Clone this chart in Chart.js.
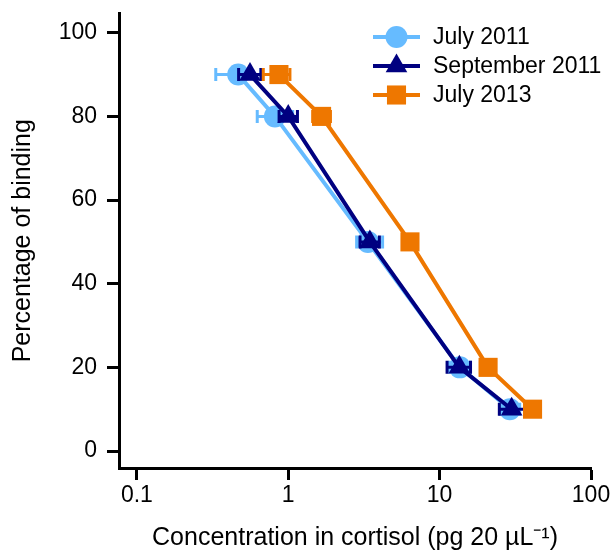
<!DOCTYPE html>
<html>
<head>
<meta charset="utf-8">
<script src="https://cdn.jsdelivr.net/npm/chart.js@4/dist/chart.umd.min.js"></script>
<style>
  html, body { margin: 0; padding: 0; background: #fff; }
  #chart { display: block; }
</style>
</head>
<body>
<canvas id="chart" width="614" height="551"></canvas>
<script>
// Werte
const binding = [90, 80, 50, 20, 10];

const july2011 = [0.467, 0.817, 3.36, 13.6, 29.1];
const july2011Lo = [0.332, 0.624, 2.83, 11.6, 25.2];
const july2011Hi = [0.66, 1.07, 4.2, 16.0, 33.8];

const sept2011 = [0.559, 1.0, 3.46, 13.5, 29.9];
const sept2011Lo = [0.47, 0.87, 2.98, 11.2, 24.8];
const sept2011Hi = [0.66, 1.15, 4.0, 16.0, 36.6];

const july2013 = [0.868, 1.66, 6.37, 20.9, 41.1];
const july2013Lo = [0.684, 1.45, 5.7, 18.6, 36.5];
const july2013Hi = [1.026, 1.9, 7.1, 23.4, 46.0];

const seriesLabels = ['July 2011', 'September 2011', 'July 2013'];
const xTicks = [0.1, 1, 10, 100];
const yTicks = [0, 20, 40, 60, 80, 100];

const FONT = "'Liberation Sans', Arial, sans-serif";

// Punkte fuer Chart.js zusammenbauen
function toPoints(xs, lo, hi) {
    return xs.map((x, i) => ({ x: x, y: binding[i], xMin: lo[i], xMax: hi[i] }));
}

function makeDataset(label, xs, lo, hi, color, style, radius, order) {
    return {
        label: label,
        data: toPoints(xs, lo, hi),
        borderColor: color,
        backgroundColor: color,
        borderWidth: 4,
        pointStyle: style,
        pointRadius: radius,
        pointHoverRadius: radius,
        pointBorderWidth: 0,
        tension: 0,
        fill: false,
        clip: false,
        order: order
    };
}

// Eigene Markerzeichnung (Legende)
function drawMarker(ctx, style, x, y, r) {
    ctx.beginPath();
    if (style === 'circle') {
        ctx.arc(x, y, r, 0, Math.PI * 2);
    } else if (style === 'triangle') {
        ctx.moveTo(x, y - r);
        ctx.lineTo(x + Math.sin(Math.PI * 2 / 3) * r, y + r / 2);
        ctx.lineTo(x - Math.sin(Math.PI * 2 / 3) * r, y + r / 2);
        ctx.closePath();
    } else {
        const s = Math.SQRT1_2 * r;
        ctx.rect(x - s, y - s, 2 * s, 2 * s);
    }
    ctx.fill();
}

// Horizontale Fehlerbalken
const errorBarPlugin = {
    id: 'errorBars',
    beforeDatasetDraw(chart, args) {
        const ctx = chart.ctx;
        const ds = chart.data.datasets[args.index];
        const xs = chart.scales.x;
        const ys = chart.scales.y;
        ctx.save();
        ctx.strokeStyle = ds.borderColor;
        ctx.lineWidth = 3;
        ds.data.forEach(p => {
            const y = ys.getPixelForValue(p.y);
            const x1 = xs.getPixelForValue(p.xMin);
            const x2 = xs.getPixelForValue(p.xMax);
            ctx.beginPath();
            ctx.moveTo(x1, y);
            ctx.lineTo(x2, y);
            ctx.moveTo(x1, y - 6.5);
            ctx.lineTo(x1, y + 6.5);
            ctx.moveTo(x2, y - 6.5);
            ctx.lineTo(x2, y + 6.5);
            ctx.stroke();
        });
        ctx.restore();
    }
};

// Legende oben rechts
const legendPlugin = {
    id: 'customLegend',
    afterDraw(chart) {
        const ctx = chart.ctx;
        ctx.save();
        ctx.font = '23px ' + FONT;
        ctx.textBaseline = 'middle';
        ctx.textAlign = 'left';
        chart.data.datasets.forEach((ds, i) => {
            const y = 37 + i * 29;
            ctx.strokeStyle = ds.borderColor;
            ctx.fillStyle = ds.borderColor;
            ctx.lineWidth = 4;
            ctx.beginPath();
            ctx.moveTo(373, y);
            ctx.lineTo(420, y);
            ctx.stroke();
            drawMarker(ctx, ds.pointStyle, 396.5, y, ds.pointRadius);
            ctx.fillStyle = '#000';
            ctx.fillText(ds.label, 433, y + 1);
        });
        ctx.restore();
    }
};

// Randabstaende der Achsen unterdruecken
function noEdgePadding(scale) {
    scale.paddingTop = 0;
    scale.paddingBottom = 0;
    scale.paddingLeft = 0;
    scale.paddingRight = 0;
}

const config = {
    type: 'line',
    data: {
        datasets: [
            makeDataset(seriesLabels[0], july2011, july2011Lo, july2011Hi, '#66bbff', 'circle', 11, 3),
            makeDataset(seriesLabels[1], sept2011, sept2011Lo, sept2011Hi, '#000080', 'triangle', 12.5, 2),
            makeDataset(seriesLabels[2], july2013, july2013Lo, july2013Hi, '#ee7700', 'rect', 13.5, 1)
        ]
    },
    options: {
        responsive: false,
        animation: false,
        devicePixelRatio: 1,
        layout: { padding: { top: 13, right: 23, left: 0, bottom: 0 } },
        plugins: {
            legend: { display: false },
            tooltip: { enabled: false }
        },
        scales: {
            x: {
                type: 'logarithmic',
                min: 0.0762,
                max: 100,
                afterBuildTicks: scale => { scale.ticks = xTicks.map(v => ({ value: v })); },
                afterFit: scale => { scale.height = 83; noEdgePadding(scale); },
                ticks: {
                    color: '#000',
                    font: { family: FONT, size: 23 },
                    padding: 2,
                    maxRotation: 0,
                    callback: v => String(v)
                },
                grid: {
                    drawOnChartArea: false,
                    tickLength: 12,
                    tickWidth: 3,
                    tickColor: '#000'
                },
                border: { display: true, width: 3, color: '#000' },
                title: {
                    display: true,
                    text: 'Concentration in cortisol (pg 20 µL⁻¹)',
                    color: '#000',
                    font: { family: FONT, size: 25 },
                    padding: { top: 0, bottom: -2 }
                }
            },
            y: {
                type: 'linear',
                min: -4.06,
                max: 104.6,
                afterBuildTicks: scale => { scale.ticks = yTicks.map(v => ({ value: v })); },
                afterFit: scale => { scale.width = 119; noEdgePadding(scale); },
                ticks: {
                    color: '#000',
                    font: { family: FONT, size: 23 },
                    padding: 10
                },
                grid: {
                    drawOnChartArea: false,
                    tickLength: 12,
                    tickWidth: 3,
                    tickColor: '#000'
                },
                border: { display: true, width: 3, color: '#000' },
                title: {
                    display: true,
                    text: 'Percentage of binding',
                    color: '#000',
                    font: { family: FONT, size: 25 },
                    padding: { top: 8, bottom: 0 }
                }
            }
        }
    },
    plugins: [errorBarPlugin, legendPlugin]
};

new Chart(document.getElementById('chart').getContext('2d'), config);
</script>
</body>
</html>
